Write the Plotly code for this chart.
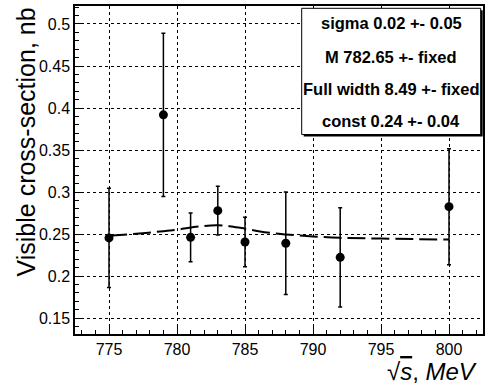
import plotly.graph_objects as go

# Measured points
energy = [775, 779, 781, 783, 785, 788, 792, 800]
xsec = [0.2455, 0.3919, 0.2462, 0.2779, 0.2407, 0.2391, 0.2224, 0.2827]
xsec_err = [0.059, 0.097, 0.029, 0.029, 0.0295, 0.061, 0.059, 0.069]

# Fit curve
fit_x = [775, 777, 779, 780, 781, 782, 783, 784, 785, 786, 787, 788, 790, 792, 795, 800]
fit_y = [0.248, 0.2505, 0.2535, 0.2553, 0.2578, 0.2598, 0.2605, 0.2592, 0.2565, 0.2535, 0.2512, 0.2497, 0.2472, 0.2456, 0.2447, 0.2435]

fit_labels = ["sigma 0.02 +- 0.05", "M 782.65 +- fixed", "Full width 8.49 +- fixed", "const 0.24 +- 0.04"]

W, H = 486, 392
L, R, T, B = 75, 3, 6, 58
PW, PH = W - L - R, H - T - B


def px(xp):
    return (xp - L) / PW


def py(yp):
    return (H - B - yp) / PH


fig = go.Figure()
fig.add_trace(go.Scatter(
    x=fit_x, y=fit_y, mode="lines",
    line=dict(color="black", width=2, dash="18px,6px", shape="spline"),
    hoverinfo="skip", showlegend=False))
fig.add_trace(go.Scatter(
    x=energy, y=xsec, mode="markers",
    marker=dict(color="black", size=9, symbol="circle"),
    error_y=dict(type="data", array=xsec_err, visible=True, color="black", thickness=1.5, width=2),
    showlegend=False))

font_family = "Liberation Sans, Arial, sans-serif"
fig.update_layout(
    width=W, height=H,
    margin=dict(l=L, r=R, t=T, b=B, pad=0, autoexpand=False),
    paper_bgcolor="white", plot_bgcolor="white",
    font=dict(family=font_family, color="black", size=16),
    showlegend=False,
)
fig.update_xaxes(
    range=[772.5, 802.5], tickmode="linear", tick0=775, dtick=5,
    ticks="inside", ticklen=7, tickwidth=1, tickcolor="black",
    minor=dict(dtick=1, ticks="inside", ticklen=4, tickcolor="black", showgrid=False),
    showgrid=True, gridcolor="black", griddash="dot", gridwidth=1,
    showline=True, linecolor="black", linewidth=1.5, mirror=True,
    zeroline=False, tickfont=dict(size=16), automargin=False,
)
fig.update_yaxes(
    range=[0.1312, 0.5214], tickmode="linear", tick0=0.15, dtick=0.05,
    ticks="inside", ticklen=8, tickwidth=1, tickcolor="black",
    minor=dict(dtick=0.01, ticks="inside", ticklen=4, tickcolor="black", showgrid=False),
    showgrid=True, gridcolor="black", griddash="dot", gridwidth=1,
    showline=True, linecolor="black", linewidth=1.5, mirror=True,
    zeroline=False, tickfont=dict(size=16), automargin=False,
)

# Fit-parameter box with shadow
bx0, by0, bx1, by1 = 301.7, 8.3, 480.7, 134.5
fig.add_shape(type="rect", xref="paper", yref="paper",
              x0=px(bx0 + 2), x1=px(bx1 + 2), y0=py(by1 + 2), y1=py(by0 + 2),
              fillcolor="black", line=dict(width=0))
fig.add_shape(type="rect", xref="paper", yref="paper",
              x0=px(bx0), x1=px(bx1), y0=py(by1), y1=py(by0),
              fillcolor="white", line=dict(color="black", width=1))
line_y = [23.3, 56.7, 89.3, 121.0]
for txt, yy in zip(fit_labels, line_y):
    fig.add_annotation(text="<b>" + txt + "</b>", xref="paper", yref="paper",
                       x=px((bx0 + bx1) / 2), y=py(yy), xanchor="center", yanchor="middle",
                       showarrow=False, font=dict(size=16.5, family=font_family, color="black"))

# Axis titles
fig.add_annotation(text="Visible cross-section, nb", xref="paper", yref="paper",
                   x=px(25), y=py(6), xanchor="center", yanchor="top", textangle=-90,
                   showarrow=False, font=dict(size=25, family=font_family, color="black"))
fig.add_annotation(text="√<span style='text-decoration:overline'><i>s</i></span>, <i>MeV</i>",
                   xref="paper", yref="paper",
                   x=px(479), y=py(371), xanchor="right", yanchor="middle",
                   showarrow=False, font=dict(size=24, family=font_family, color="black"))

fig.write_html("out.html", config={"displayModeBar": False},
               post_script="document.body.style.margin='0';document.body.style.padding='0';")
